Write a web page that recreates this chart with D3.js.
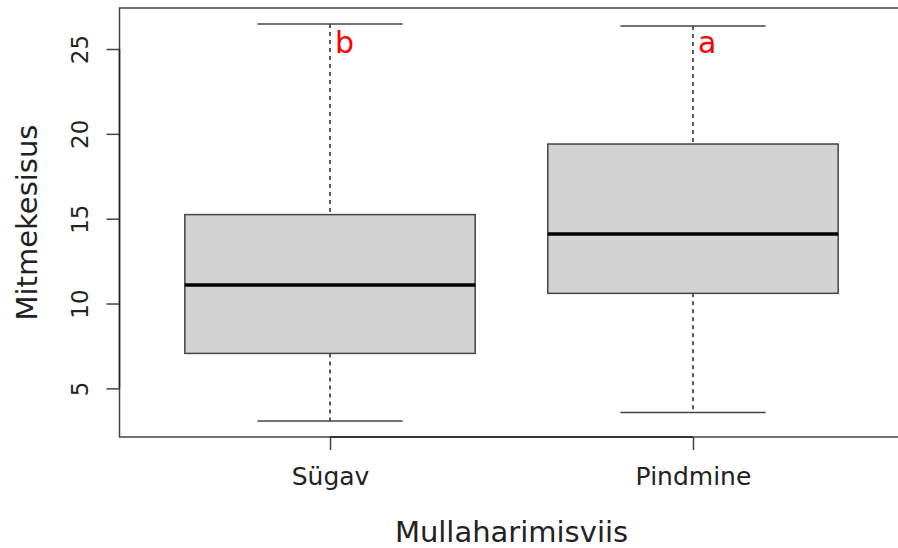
<!DOCTYPE html>
<html>
<head>
<meta charset="utf-8">
<script src="https://cdn.jsdelivr.net/npm/d3@7"></script>
<style>
  body { margin: 0; background: #fff; }
  svg { display: block; font-family: "DejaVu Sans", sans-serif; }
</style>
</head>
<body>
<div id="chart"></div>
<script>
// Boxplot: Mitmekesisus by Mullaharimisviis
const groups = ['Sügav', 'Pindmine'];
const whiskerLow = [3.07, 3.58];
const q1 = [7.06, 10.6];
const medians = [11.09, 14.1];
const q3 = [15.24, 19.4];
const whiskerHigh = [26.48, 26.36];
const letters = ['b', 'a'];
const letterY = [24.75, 24.75];
const yTicks = [5, 10, 15, 20, 25];

const width = 898;
const height = 548;
const plot = { left: 119.5, top: 8, right: 903.5, bottom: 437 };

const svg = d3.select('#chart')
    .append('svg')
    .attr('width', width)
    .attr('height', height);

// R style scales: xlim 0.5..n+0.5 extended by 4%
const x = d3.scaleLinear()
    .domain([0.42, 2.58])
    .range([plot.left, plot.right]);

const y = d3.scaleLinear()
    .domain([2.134, 27.416])
    .range([plot.bottom, plot.top]);

const boxHalf = 0.4;
const capHalf = 0.2;

const data = groups.map((g, i) => ({
    name: g,
    pos: i + 1,
    lo: whiskerLow[i],
    q1: q1[i],
    med: medians[i],
    q3: q3[i],
    hi: whiskerHigh[i],
    letter: letters[i],
    letterY: letterY[i]
}));

const box = svg.append('g')
    .selectAll('.box')
    .data(data)
    .enter()
    .append('g')
    .attr('class', 'box');

// whiskers (dashed)
box.append('line')
    .attr('x1', d => x(d.pos)).attr('x2', d => x(d.pos))
    .attr('y1', d => y(d.hi)).attr('y2', d => y(d.q3))
    .attr('stroke', '#333').attr('stroke-width', 1.6)
    .attr('stroke-dasharray', '4,4');
box.append('line')
    .attr('x1', d => x(d.pos)).attr('x2', d => x(d.pos))
    .attr('y1', d => y(d.q1)).attr('y2', d => y(d.lo))
    .attr('stroke', '#333').attr('stroke-width', 1.6)
    .attr('stroke-dasharray', '4,4');

// whisker caps
['hi', 'lo'].forEach(k => {
    box.append('line')
        .attr('x1', d => x(d.pos - capHalf)).attr('x2', d => x(d.pos + capHalf))
        .attr('y1', d => y(d[k])).attr('y2', d => y(d[k]))
        .attr('stroke', '#444').attr('stroke-width', 1.5);
});

// boxes
box.append('rect')
    .attr('x', d => x(d.pos - boxHalf))
    .attr('y', d => y(d.q3))
    .attr('width', d => x(d.pos + boxHalf) - x(d.pos - boxHalf))
    .attr('height', d => y(d.q1) - y(d.q3))
    .attr('fill', '#d3d3d3')
    .attr('stroke', '#444')
    .attr('stroke-width', 1.5);

// medians
box.append('line')
    .attr('x1', d => x(d.pos - boxHalf)).attr('x2', d => x(d.pos + boxHalf))
    .attr('y1', d => y(d.med)).attr('y2', d => y(d.med))
    .attr('stroke', '#000').attr('stroke-width', 3.5);

// significance letters
box.append('text')
    .attr('x', d => x(d.pos) + 5)
    .attr('y', d => y(d.letterY))
    .attr('fill', '#ff0000')
    .attr('font-size', '30px')
    .text(d => d.letter);

// plot frame
svg.append('rect')
    .attr('x', plot.left).attr('y', plot.top)
    .attr('width', plot.right - plot.left)
    .attr('height', plot.bottom - plot.top)
    .attr('fill', 'none')
    .attr('stroke', '#444')
    .attr('stroke-width', 1.5);

// y axis
const yAxis = svg.append('g')
    .attr('transform', `translate(${plot.left},0)`)
    .call(d3.axisLeft(y).tickValues(yTicks).tickSize(13).tickPadding(0).tickFormat(d3.format('d')));
yAxis.select('.domain').remove();
yAxis.append('line')
    .attr('x1', 0).attr('x2', 0)
    .attr('y1', y(yTicks[0])).attr('y2', y(yTicks[yTicks.length - 1]))
    .attr('stroke', '#222').attr('stroke-width', 1.5);
yAxis.selectAll('.tick line').attr('stroke', '#444').attr('stroke-width', 1.5);
yAxis.selectAll('.tick text')
    .attr('x', null).attr('dy', null)
    .attr('transform', 'translate(-32,0) rotate(-90)')
    .attr('text-anchor', 'middle')
    .attr('font-family', '"DejaVu Sans", sans-serif')
    .attr('font-size', '23px')
    .attr('fill', '#222');

// x axis
const xAxis = svg.append('g')
    .attr('transform', `translate(0,${plot.bottom})`)
    .call(d3.axisBottom(x).tickValues(data.map(d => d.pos)).tickSize(13).tickPadding(0)
        .tickFormat(v => groups[v - 1]));
xAxis.select('.domain').remove();
xAxis.append('line')
    .attr('x1', x(1)).attr('x2', x(groups.length))
    .attr('y1', 0).attr('y2', 0)
    .attr('stroke', '#222').attr('stroke-width', 1.5);
xAxis.selectAll('.tick line').attr('stroke', '#444').attr('stroke-width', 1.5);
xAxis.selectAll('.tick text')
    .attr('y', 48).attr('dy', null)
    .attr('font-family', '"DejaVu Sans", sans-serif')
    .attr('font-size', '25px')
    .attr('fill', '#222');

// axis titles
svg.append('text')
    .attr('x', x(1.5))
    .attr('y', 542)
    .attr('text-anchor', 'middle')
    .attr('font-size', '29px')
    .attr('fill', '#222')
    .text('Mullaharimisviis');

svg.append('text')
    .attr('transform', `translate(37,${y((y.domain()[0] + y.domain()[1]) / 2)}) rotate(-90)`)
    .attr('text-anchor', 'middle')
    .attr('font-size', '29px')
    .attr('fill', '#222')
    .text('Mitmekesisus');
</script>
</body>
</html>
